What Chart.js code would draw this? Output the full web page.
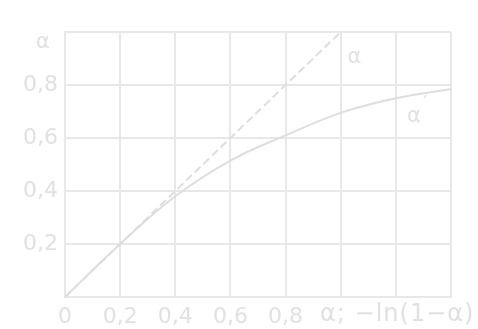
<!DOCTYPE html>
<html>
<head>
<meta charset="utf-8">
<script src="https://cdn.jsdelivr.net/npm/chart.js@4/dist/chart.umd.min.js"></script>
<style>
  html, body { margin: 0; padding: 0; background: #ffffff; }
  #wrap { width: 478px; height: 329px; position: relative; }
</style>
</head>
<body>
<div id="wrap"><canvas id="c" width="478" height="329"></canvas></div>
<script>
// Abscissa: α for the straight line, −ln(1−α) for the curve
const xValues = [0, 0.2, 0.4, 0.6, 0.8, 1.0, 1.2, 1.4];
// Reference line α = α
const alphaLine = [0, 0.2, 0.4, 0.6, 0.8, 1.0];
// Curve α'
const alphaPrime = [0, 0.2, 0.38, 0.515, 0.61, 0.695, 0.75, 0.785];
// Tick labels (decimal comma)
const xTickLabels = ['0', '0,2', '0,4', '0,6', '0,8'];
const yTickLabels = ['', '0,2', '0,4', '0,6', '0,8'];

const INK = '#e1e1e1';
const GRID = '#e8e8e8';
const LINE = '#dedede';
const FONT = '"DejaVu Sans", "Liberation Sans", sans-serif';

const labelsPlugin = {
  id: 'curveLabels',
  afterDraw(chart) {
    const ctx = chart.ctx;
    const xs = chart.scales.x, ys = chart.scales.y;
    ctx.save();
    ctx.fillStyle = INK;
    ctx.textBaseline = 'middle';
    // y-axis name at the top
    ctx.font = '21px ' + FONT;
    ctx.textAlign = 'center';
    ctx.fillText('α', 43, ys.getPixelForValue(0.96));
    // line labels
    ctx.fillText('α', xs.getPixelForValue(1.05), ys.getPixelForValue(0.905));
    ctx.textAlign = 'left';
    ctx.fillText('α', xs.getPixelForValue(1.24), ys.getPixelForValue(0.68));
    ctx.font = '20px ' + FONT;
    ctx.fillText('′', xs.getPixelForValue(1.24) + 16, ys.getPixelForValue(0.73));
    // x-axis name, on the tick-label row
    ctx.font = '24px ' + FONT;
    ctx.letterSpacing = '1px';
    ctx.fillText('α; −ln(1−α)', 320, 315);
    ctx.restore();
  }
};

new Chart(document.getElementById('c'), {
  type: 'line',
  data: {
    datasets: [
      {
        label: 'α',
        data: alphaLine.map((v, i) => ({ x: xValues[i], y: v })),
        borderColor: LINE,
        borderWidth: 2,
        borderDash: [8, 4],
        pointRadius: 0,
        tension: 0
      },
      {
        label: "α'",
        data: alphaPrime.map((v, i) => ({ x: xValues[i], y: v })),
        borderColor: LINE,
        borderWidth: 2,
        pointRadius: 0,
        tension: 0.4
      }
    ]
  },
  plugins: [labelsPlugin],
  options: {
    responsive: false,
    animation: false,
    layout: { padding: { top: 32, right: 27, left: 0, bottom: 0 } },
    plugins: { legend: { display: false }, tooltip: { enabled: false } },
    scales: {
      x: {
        type: 'linear',
        min: 0, max: 1.4,
        afterFit: s => { s.height = 32; },
        grid: { color: GRID, lineWidth: 2, drawTicks: false },
        border: { color: GRID, width: 2 },
        ticks: {
          stepSize: 0.2,
          padding: 7,
          color: INK,
          font: { family: FONT, size: 22 },
          callback: (v) => {
            const i = Math.round(v / 0.2);
            return xTickLabels[i] !== undefined ? xTickLabels[i] : '';
          }
        }
      },
      y: {
        type: 'linear',
        min: 0, max: 1.0,
        afterFit: s => { s.width = 65; },
        grid: { color: GRID, lineWidth: 2, drawTicks: false },
        border: { color: GRID, width: 2 },
        ticks: {
          stepSize: 0.2,
          padding: 7,
          color: INK,
          font: { family: FONT, size: 22 },
          callback: (v) => {
            const i = Math.round(v / 0.2);
            return yTickLabels[i] !== undefined ? yTickLabels[i] : '';
          }
        }
      }
    }
  }
});
</script>
</body>
</html>
